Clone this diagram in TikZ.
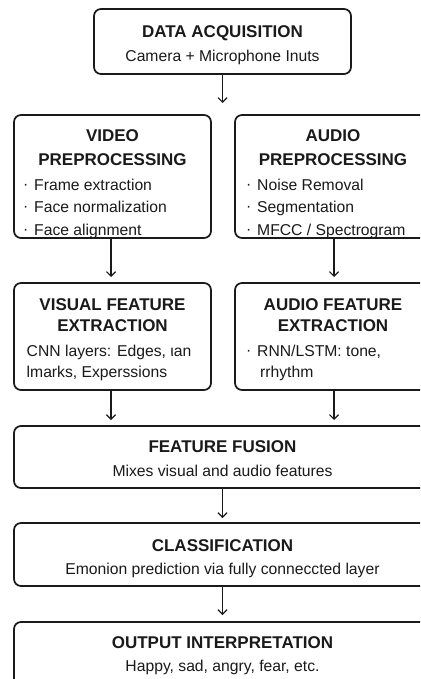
\documentclass[tikz,border=0pt]{standalone}
\usepackage{fontspec}
\setmainfont{Liberation Sans}
\usetikzlibrary{arrows.meta}
\definecolor{ink}{HTML}{1A1A1A}
\newcommand{\bul}{\makebox[11pt][l]{\raisebox{0.8pt}{·}}}
\begin{document}
\begin{tikzpicture}[x=1pt,y=-1pt,
 box/.style={draw=ink,line width=1.7pt,rounded corners=7pt,inner sep=0pt,outer sep=0pt},
 ttl/.style={font=\fontsize{17}{20}\selectfont\bfseries,text=ink,inner sep=0pt,anchor=base},
 txt/.style={font=\fontsize{15.7}{19}\selectfont,text=ink,inner sep=0pt,anchor=base},
 txl/.style={txt,anchor=base west},
 flow/.style={draw=ink,line width=1.2pt,-{Straight Barb[length=4.5pt,width=9pt,line width=1.2pt]}}]
\useasboundingbox (0,0) rectangle (420,679);
\clip (0,0) rectangle (420,679);
\fill[white] (0,0) rectangle (420,679);

% boxes
\node[box,minimum width=257pt,minimum height=65pt] (da) at (222.5,41.5) {};
\node[box,minimum width=197pt,minimum height=123pt] (vid) at (112.5,176.5) {};
\node[box,minimum width=196pt,minimum height=123pt] (aud) at (333,176.5) {};
\node[box,minimum width=197pt,minimum height=107pt] (vis) at (112.5,336.5) {};
\node[box,minimum width=196pt,minimum height=107pt] (auf) at (333,336.5) {};
\node[box,minimum width=417pt,minimum height=62pt] (fus) at (222.5,457) {};
\node[box,minimum width=417pt,minimum height=63pt] (cls) at (222.5,554.5) {};
\node[box,minimum width=417pt,minimum height=65pt] (out) at (222.5,654.5) {};

% texts
\node[ttl] (daT) at (222.5,37.5) {DATA ACQUISITION};
\node[txt] (daS) at (222.5,61.5) {Camera + Microphone Inuts};

\node[ttl] (vidT1) at (112.5,142) {VIDEO};
\node[ttl] (vidT2) at (112.5,165) {PREPROCESSING};
\node[txl] (vidA) at (23,190) {\bul Frame extraction};
\node[txl] (vidB) at (23,212.5) {\bul Face normalization};
\node[txl] (vidC) at (23,235) {\bul Face alignment};

\node[ttl] (audT1) at (333,142) {AUDIO};
\node[ttl] (audT2) at (333,165) {PREPROCESSING};
\node[txl] (audA) at (246,190) {\bul Noise Removal};
\node[txl] (audB) at (246,212.5) {\bul Segmentation};
\node[txl] (audC) at (246,235) {\bul MFCC / Spectrogram};

\node[ttl] (visT1) at (112.5,310) {VISUAL FEATURE};
\node[ttl] (visT2) at (112.5,331.7) {EXTRACTION};
\node[txl] (visA) at (26.5,356) {CNN layers: Edges, ιan};
\node[txl] (visB) at (26.5,377.7) {lmarks, Experssions};

\node[ttl] (aufT1) at (333,310) {AUDIO FEATURE};
\node[ttl] (aufT2) at (333,331.7) {EXTRACTION};
\node[txl] (aufA) at (246,356) {\bul RNN/LSTM: tone,};
\node[txl] (aufB) at (260,377.7) {rrhythm};

\node[ttl] (fusT) at (222.5,452.7) {FEATURE FUSION};
\node[txt] (fusS) at (222.5,476.7) {Mixes visual and audio features};

\node[ttl] (clsT) at (222.5,551) {CLASSIFICATION};
\node[txt] (clsS) at (222.5,574) {Emonion prediction via fully conneccted layer};

\node[ttl] (outT) at (222.5,648.3) {OUTPUT INTERPRETATION};
\node[txt] (outS) at (222.5,671.7) {Happy, sad, angry, fear, etc.};

% connectors
\draw[flow,shorten >=12pt] (da.south) -- (da.south |- vid.north);
\draw[flow,shorten >=6pt] ([xshift=-1.5pt]vid.south) -- ([xshift=-1.5pt]vis.north);
\draw[flow,shorten >=6pt] ([xshift=1pt]aud.south) -- ([xshift=1pt]auf.north);
\draw[flow,shorten >=6pt] ([xshift=-1.5pt]vis.south) -- ([xshift=-1.5pt]vis.south |- fus.north);
\draw[flow,shorten >=6pt] ([xshift=1pt]auf.south) -- ([xshift=1pt]auf.south |- fus.north);
\draw[flow,shorten >=5pt] (fus.south) -- (cls.north);
\draw[flow,shorten >=7pt] (cls.south) -- (out.north);
\end{tikzpicture}
\end{document}
